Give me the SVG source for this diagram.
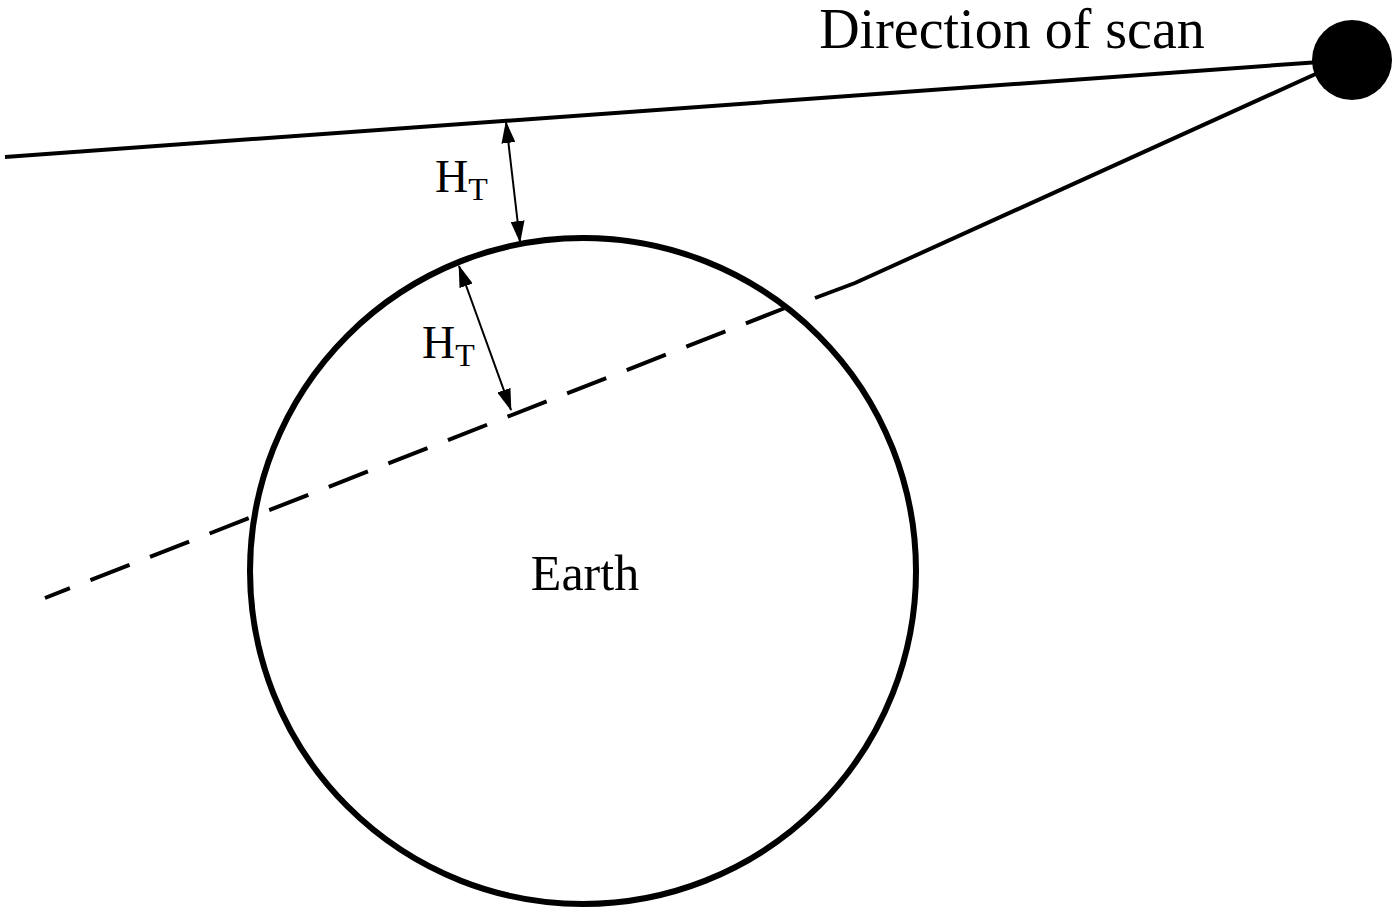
<svg xmlns="http://www.w3.org/2000/svg" width="1400" height="912" viewBox="0 0 1400 912">
<style>
text{font-family:"Liberation Serif",serif;fill:#000}
.l{stroke:#000;fill:none;stroke-width:4}
.e{stroke:#000;fill:none;stroke-width:6}
.a{stroke:#000;stroke-width:2;fill:none}
</style>
<defs>
<marker id="ar" viewBox="0 0 22 14" refX="21" refY="7" markerWidth="22" markerHeight="14" markerUnits="userSpaceOnUse" orient="auto-start-reverse"><path d="M0,0 L22,7 L0,14 z" fill="#000"/></marker>
</defs>
<rect width="1400" height="912" fill="#fff"/>
<g id="earth"><circle cx="583" cy="571" r="333" class="e"/><text x="585" y="590" font-size="50" text-anchor="middle">Earth</text></g>
<g id="satellite"><circle cx="1352" cy="60" r="40" fill="#000"/><text x="1012" y="48" font-size="56" text-anchor="middle">Direction of scan</text></g>
<g id="connectors">
<line x1="5" y1="157" x2="1320" y2="62" class="l"/>
<polyline points="1320,72 855,283 815,298" class="l"/>
<line x1="785" y1="308" x2="45" y2="598" class="l" stroke-dasharray="42,22"/>
<line x1="506" y1="122" x2="520" y2="242" class="a" marker-start="url(#ar)" marker-end="url(#ar)"/>
<line x1="459" y1="266" x2="511" y2="410" class="a" marker-start="url(#ar)" marker-end="url(#ar)"/>
</g>
<g id="labels">
<text x="435" y="192" font-size="46">H<tspan font-size="32" dy="8">T</tspan></text>
<text x="422" y="358" font-size="46">H<tspan font-size="32" dy="8">T</tspan></text>
</g>
</svg>
